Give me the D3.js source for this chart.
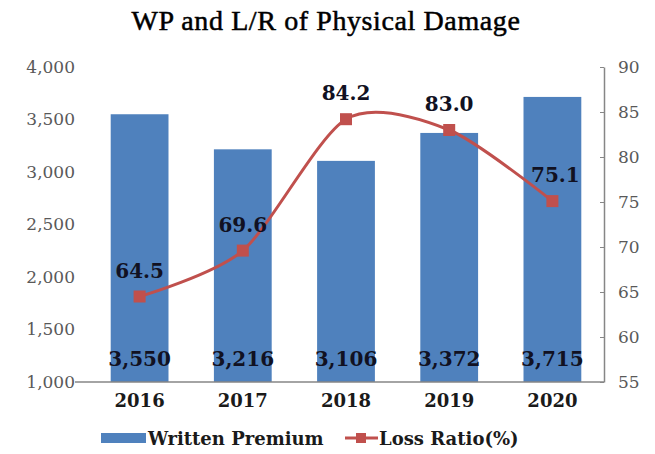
<!DOCTYPE html>
<html>
<head>
<meta charset="utf-8">
<script src="https://cdn.jsdelivr.net/npm/d3@7"></script>
<style>
  body { margin: 0; background: #fff; }
  svg text { font-family: "DejaVu Serif", "Liberation Serif", serif; }
</style>
</head>
<body>
<div id="chart"></div>
<script>
// data
var years = ["2016", "2017", "2018", "2019", "2020"];
var premium = [3550, 3216, 3106, 3372, 3715];
var lossRatio = [64.5, 69.6, 84.2, 83.0, 75.1];
var leftTicks = [1000, 1500, 2000, 2500, 3000, 3500, 4000];
var rightTicks = [55, 60, 65, 70, 75, 80, 85, 90];

var W = 655, H = 454;
var margin = {top: 67, right: 51, bottom: 72, left: 88},
    width = W - margin.left - margin.right,
    height = H - margin.top - margin.bottom;

var svg = d3.select("#chart").append("svg")
    .attr("width", W).attr("height", H);

svg.append("text")
  .attr("x", 326).attr("y", 30)
  .attr("text-anchor", "middle")
  .style("font-family", "'Liberation Serif', serif")
  .style("font-size", "28px")
  .style("letter-spacing", "0.6px")
  .attr("fill", "#000")
  .attr("stroke", "#000").attr("stroke-width", 0.5)
  .text("WP and L/R of Physical Damage");

var g = svg.append("g")
  .attr("transform", "translate(" + margin.left + "," + margin.top + ")");

var x = d3.scaleBand().domain(years).range([0, width]).paddingInner(0.44).paddingOuter(0.22);
var yL = d3.scaleLinear().domain([1000, 4000]).range([height, 0]);
var yR = d3.scaleLinear().domain([55, 90]).range([height, 0]);

// left axis (labels only)
var left = g.append("g").attr("transform", "translate(-10,0)")
  .call(d3.axisLeft(yL).tickValues(leftTicks).tickSize(0).tickFormat(d3.format(",")));
left.select(".domain").remove();
left.selectAll("text")
  .attr("fill", "#595959")
  .style("font-size", "17px")
  .style("font-family", "'DejaVu Serif', serif");

// right axis
var right = g.append("g").attr("transform", "translate(" + width + ",0)")
  .call(d3.axisRight(yR).tickValues(rightTicks).tickSize(0).tickPadding(14));
right.select(".domain").attr("stroke", "#868686").attr("stroke-width", 1.5);
right.selectAll(".tick line").attr("x1", -4).attr("x2", 0).attr("stroke", "#868686");
right.selectAll("text")
  .attr("fill", "#595959")
  .style("font-size", "17px")
  .style("font-family", "'DejaVu Serif', serif");

// bars
g.selectAll("rect.bar")
  .data(premium)
  .enter().append("rect")
    .attr("class", "bar")
    .attr("x", function(d, i) { return x(years[i]); })
    .attr("y", function(d) { return yL(d); })
    .attr("width", x.bandwidth())
    .attr("height", function(d) { return height - yL(d); })
    .attr("fill", "#4f81bd");

// baseline
g.append("line")
  .attr("x1", -13).attr("x2", width)
  .attr("y1", height).attr("y2", height)
  .attr("stroke", "#868686").attr("stroke-width", 1.5);

// x labels
var bottom = g.append("g").attr("transform", "translate(0," + height + ")")
  .call(d3.axisBottom(x).tickSize(0).tickPadding(12));
bottom.select(".domain").remove();
bottom.selectAll("text")
  .attr("fill", "#1a1a1a")
  .style("font-size", "18px")
  .style("font-weight", "bold")
  .style("font-family", "'DejaVu Serif', serif");

// bar value labels
g.selectAll("text.barlab")
  .data(premium)
  .enter().append("text")
    .attr("class", "barlab")
    .attr("x", function(d, i) { return x(years[i]) + x.bandwidth() / 2; })
    .attr("y", height - 16)
    .attr("text-anchor", "middle")
    .attr("fill", "#111122")
    .style("font-size", "20px")
    .style("font-weight", "bold")
    .text(function(d) { return d3.format(",")(d); });

// loss ratio line
var cx = function(d, i) { return x(years[i]) + x.bandwidth() / 2; };
var line = d3.line()
  .x(cx)
  .y(function(d) { return yR(d); })
  .curve(d3.curveCardinal.tension(0.2));

g.append("path")
  .datum(lossRatio)
  .attr("d", line)
  .attr("fill", "none")
  .attr("stroke", "#c0504d")
  .attr("stroke-width", 3);

g.selectAll("rect.mark")
  .data(lossRatio)
  .enter().append("rect")
    .attr("class", "mark")
    .attr("x", function(d, i) { return cx(d, i) - 6; })
    .attr("y", function(d) { return yR(d) - 6; })
    .attr("width", 12).attr("height", 12)
    .attr("fill", "#c0504d");

g.selectAll("text.linelab")
  .data(lossRatio)
  .enter().append("text")
    .attr("class", "linelab")
    .attr("x", function(d, i) { return cx(d, i) + (i == 4 ? 3 : 0); })
    .attr("y", function(d) { return yR(d) - 19; })
    .attr("text-anchor", "middle")
    .attr("fill", "#111122")
    .style("font-size", "20px")
    .style("font-weight", "bold")
    .text(function(d) { return d.toFixed(1); });

// legend
var leg = svg.append("g").attr("transform", "translate(0,438)");
leg.append("rect").attr("x", 101).attr("y", -5).attr("width", 45).attr("height", 10).attr("fill", "#4f81bd");
leg.append("text").attr("x", 148).attr("y", 7)
  .style("font-size", "18px").style("font-weight", "bold").attr("fill", "#1a1a1a")
  .text("Written Premium");
leg.append("line").attr("x1", 345).attr("x2", 378).attr("y1", 0).attr("y2", 0)
  .attr("stroke", "#c0504d").attr("stroke-width", 3);
leg.append("rect").attr("x", 356).attr("y", -5).attr("width", 10).attr("height", 10).attr("fill", "#c0504d");
leg.append("text").attr("x", 379).attr("y", 7)
  .style("font-size", "18px").style("font-weight", "bold").attr("fill", "#1a1a1a")
  .text("Loss Ratio(%)");
</script>
</body>
</html>
